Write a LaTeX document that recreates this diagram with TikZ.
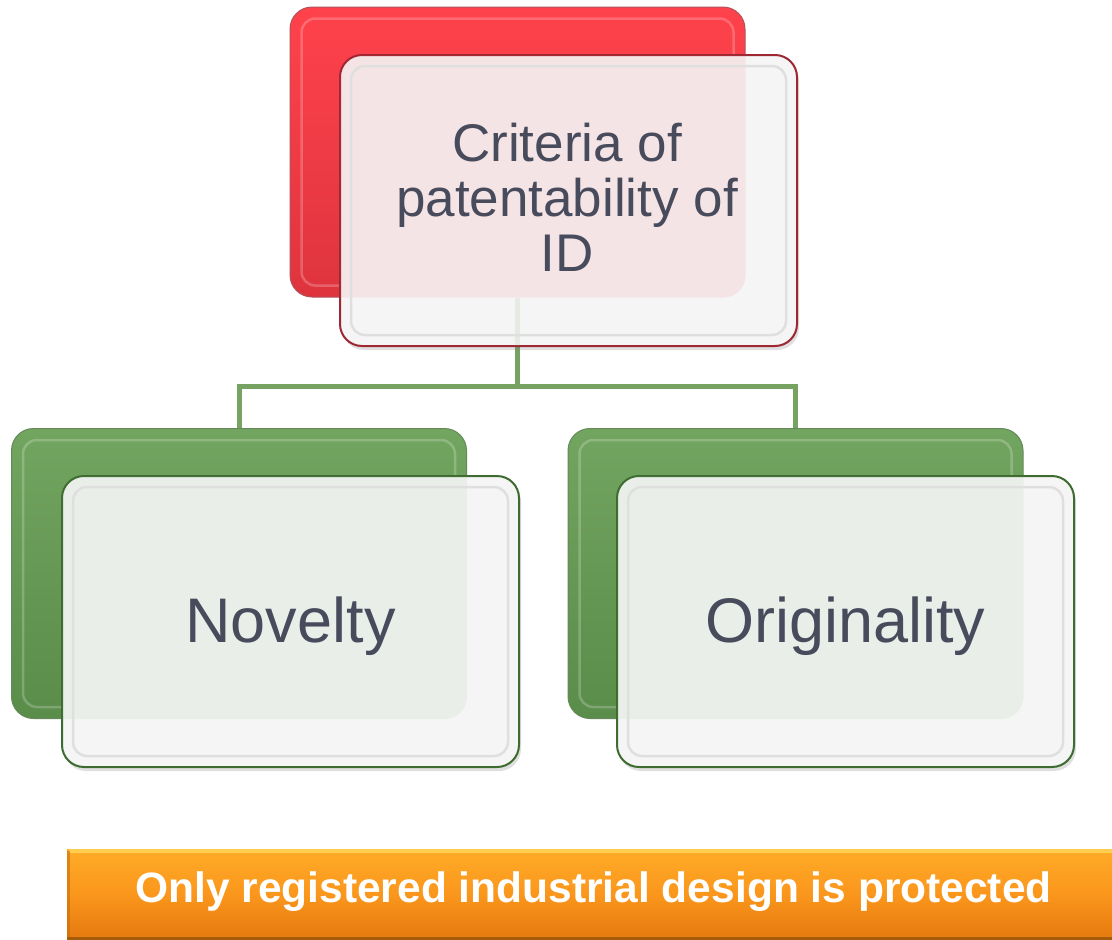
\documentclass[tikz,border=0pt]{standalone}
\usepackage{fontspec}
\setmainfont{Liberation Sans}
\usetikzlibrary{shadows}
\definecolor{txt}{RGB}{71,75,92}
\definecolor{redtop}{RGB}{255,66,76}
\definecolor{redbot}{RGB}{222,52,62}
\definecolor{rededge}{RGB}{158,40,50}
\definecolor{grntop}{RGB}{114,165,96}
\definecolor{grnbot}{RGB}{90,140,74}
\definecolor{grnedge}{RGB}{62,108,48}
\definecolor{conn}{RGB}{118,162,98}
\definecolor{frontfill}{RGB}{245,245,245}
\definecolor{orgtop}{RGB}{255,172,40}
\definecolor{orgmid}{RGB}{250,150,28}
\definecolor{orgbot}{RGB}{228,120,14}
\tikzset{
  backbox/.style={rectangle, rounded corners=22pt, minimum width=455pt, minimum height=290pt, inner sep=0pt, line width=1pt},
  redback/.style={backbox, top color=redtop, bottom color=redbot, draw=rededge!80},
  grnback/.style={backbox, top color=grntop, bottom color=grnbot, draw=grnedge!80},
  frontbox/.style={rectangle, rounded corners=22pt, minimum width=457pt, minimum height=291pt, inner sep=0pt, fill=frontfill, line width=2pt,
     drop shadow={opacity=0.25, shadow xshift=2pt, shadow yshift=-4pt}},
  connline/.style={draw=conn, line width=5pt},
  labeltext/.style={text=txt, inner sep=0pt},
  rim/.style={rounded corners=14pt, line width=2.5pt},
}
\begin{document}
\begin{tikzpicture}[x=1pt,y=-1pt]
\useasboundingbox (0,0) rectangle (1112,940);

% back boxes
\node[redback] (rb) at (517.5,152) {};
\node[grnback] (lb) at (239,573.5) {};
\node[grnback] (gb) at (795.5,573.5) {};
\draw[rim, white, opacity=0.22] ([shift={(12,12)}]rb.north west) rectangle ([shift={(-12,-12)}]rb.south east);
\draw[rim, white, opacity=0.22] ([shift={(12,12)}]lb.north west) rectangle ([shift={(-12,-12)}]lb.south east);
\draw[rim, white, opacity=0.22] ([shift={(12,12)}]gb.north west) rectangle ([shift={(-12,-12)}]gb.south east);

% connectors
\path (rb.south) ++(0,89) coordinate (hub);
\draw[connline] (rb.south) -- (hub) -| (lb.north);
\draw[connline] (hub) -| (gb.north);

% front boxes
\node[frontbox, draw=rededge] (tf) at (568.5,200.5) {};
\node[frontbox, draw=grnedge] (lf) at (290.5,621.5) {};
\node[frontbox, draw=grnedge] (gf) at (845.5,621.5) {};

% see-through tint
\begin{scope}
\clip[rounded corners=22pt] ([shift={(1,1)}]tf.north west) rectangle ([shift={(-1,-1)}]tf.south east);
\fill[redtop, opacity=0.09, rounded corners=22pt] (rb.north west) rectangle (rb.south east);
\draw[conn, line width=5pt, opacity=0.12] (rb.south) -- (hub);
\end{scope}
\begin{scope}
\clip[rounded corners=22pt] ([shift={(1,1)}]lf.north west) rectangle ([shift={(-1,-1)}]lf.south east);
\fill[grntop, opacity=0.08, rounded corners=22pt] (lb.north west) rectangle (lb.south east);
\end{scope}
\begin{scope}
\clip[rounded corners=22pt] ([shift={(1,1)}]gf.north west) rectangle ([shift={(-1,-1)}]gf.south east);
\fill[grntop, opacity=0.08, rounded corners=22pt] (gb.north west) rectangle (gb.south east);
\end{scope}

% inner bevels
\draw[rim, gray!25] ([shift={(12,12)}]tf.north west) rectangle ([shift={(-12,-12)}]tf.south east);
\draw[rim, gray!25] ([shift={(12,12)}]lf.north west) rectangle ([shift={(-12,-12)}]lf.south east);
\draw[rim, gray!25] ([shift={(12,12)}]gf.north west) rectangle ([shift={(-12,-12)}]gf.south east);

% labels
\node[labeltext, align=center, font=\fontsize{53}{55}\selectfont] (tt) at (567,197) {Criteria of\\patentability of\\ID};
\node[labeltext, anchor=base, font=\fontsize{63}{70}\selectfont] (lt) at (290.5,642) {Novelty};
\node[labeltext, anchor=base, font=\fontsize{63}{70}\selectfont] (gt) at (845.5,642) {Originality};

% banner
\node[rectangle, minimum width=1045pt, minimum height=91pt, inner sep=0pt,
      top color=orgtop, bottom color=orgbot, middle color=orgmid] (ban) at (589.5,894.5) {};
\draw[line width=4pt, color={rgb,255:red,255;green,214;blue,90}, opacity=0.8]
  ([shift={(2,2)}]ban.north west) -- ([shift={(0,2)}]ban.north east);
\draw[line width=3pt, color={rgb,255:red,200;green,110;blue,10}, opacity=0.6]
  ([shift={(1.5,2)}]ban.north west) -- ([shift={(1.5,-2)}]ban.south west);
\draw[line width=3pt, color={rgb,255:red,165;green,92;blue,10}]
  ([shift={(0,-1.5)}]ban.south west) -- ([shift={(0,-1.5)}]ban.south east);
\node[anchor=base, text=white, inner sep=0pt, font=\bfseries\fontsize{42.5}{50}\selectfont] (bt) at (593.5,902) {Only registered industrial design is protected};
\end{tikzpicture}
\end{document}
